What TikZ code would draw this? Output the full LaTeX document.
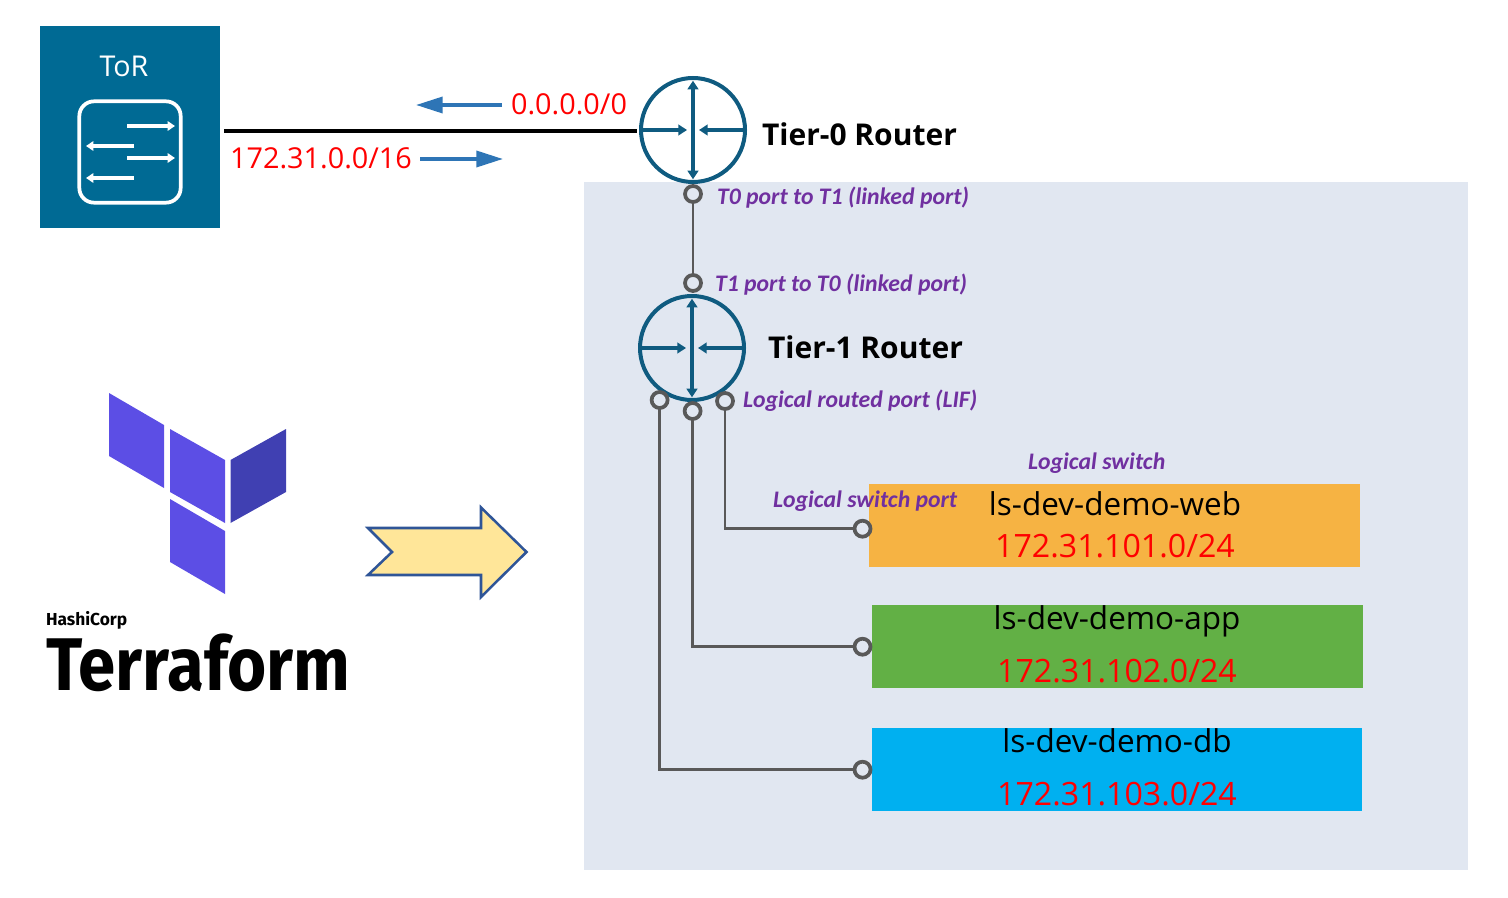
\documentclass[tikz,border=0pt]{standalone}
\usepackage{fontspec}
\setmainfont{Open Sans}
\newfontfamily\calfont{Carlito}
\newfontfamily\tffont{Fira Sans}
\usetikzlibrary{arrows.meta}
\definecolor{panel}{HTML}{E1E7F1}
\definecolor{torblue}{HTML}{006A94}
\definecolor{routerblue}{HTML}{0F5B80}
\definecolor{portgrey}{HTML}{595959}
\definecolor{lblpurple}{HTML}{7030A0}
\definecolor{lsorange}{HTML}{F6B343}
\definecolor{lsgreen}{HTML}{62B045}
\definecolor{lsblue}{HTML}{00B0F0}
\definecolor{tfa}{HTML}{5C4EE5}
\definecolor{tfb}{HTML}{4040B2}
\definecolor{flowblue}{HTML}{2E75B6}
\definecolor{bigfill}{HTML}{FFE699}
\definecolor{bigline}{HTML}{2F5597}
\newcommand{\fsz}[1]{\fontsize{#1}{#1}\selectfont}
\tikzset{
  x=0.75pt,y=-0.75pt,
  every node/.style={inner sep=0pt,outer sep=0pt},
  box/.style={rectangle,anchor=north west},
  router/.style={circle,draw=routerblue,line width=3pt,minimum size=78pt},
  rarrow/.style={routerblue,line width=2.8pt,-{Triangle[length=6.5pt,width=8pt]}},
  rarrowb/.style={routerblue,line width=2.8pt,{Triangle[length=6.5pt,width=8pt]}-{Triangle[length=6.5pt,width=8pt]}},
  port/.style={circle,draw=portgrey,line width=2.8pt,fill=none,minimum size=12pt},
  wire/.style={portgrey,line width=2.2pt},
  toric/.style={white,line width=2.7pt,-{Triangle[length=5.5pt,width=7pt]}},
  flow/.style={flowblue,line width=2.6pt,-{Triangle[length=20pt,width=12pt]}},
  plbl/.style={text=lblpurple,anchor=west,font=\calfont\bfseries\itshape\fsz{17.8}},
  rtitle/.style={text=black,anchor=west,font=\bfseries\fsz{22.5}},
  lsname/.style={text=black,font=\fsz{23.6}},
  lsnet/.style={text=red,font=\fsz{24.1}},
  flbl/.style={text=red,font=\fsz{21.6}},
}
\begin{document}
\begin{tikzpicture}
\useasboundingbox (0,0) rectangle (1508,898);
% panel
\node[box,fill=panel,minimum width=663pt,minimum height=516pt] (panel) at (584,182) {};
% ToR
\node[box,fill=torblue,minimum width=135pt,minimum height=151.5pt] (tor) at (40,26) {};
\node[text=white,font=\fsz{21.5}] (torlbl) at (124,66) {ToR};
\node[draw=white,line width=2.8pt,rounded corners=11pt,minimum size=76pt] (toric) at (130,152) {};
\coordinate (a1s) at (127,126); \coordinate (a1e) at (175,126);
\coordinate (a2s) at (134,146); \coordinate (a2e) at (86,146);
\coordinate (a3s) at (127,158); \coordinate (a3e) at (175,158);
\coordinate (a4s) at (134,178); \coordinate (a4e) at (86,178);
\draw[toric] (a1s) -- (a1e);
\draw[toric] (a2s) -- (a2e);
\draw[toric] (a3s) -- (a3e);
\draw[toric] (a4s) -- (a4e);
% routers
\node[router] (t0) at (693,130) {};
\node[router] (t1) at (692,348) {};
\foreach \r in {t0,t1}{
  \draw[rarrowb] ([yshift=-2pt]\r.north) -- ([yshift=2pt]\r.south);
  \draw[rarrow] (\r.west) -- ([xshift=-4.5pt]\r.center);
  \draw[rarrow] (\r.east) -- ([xshift=4.5pt]\r.center);
}
% uplink
\draw[black,line width=2.8pt,shorten <=3pt,shorten >=3pt,transform canvas={yshift=-0.75pt}] (tor.east |- t0.west) -- (t0.west);
% flow arrows
\coordinate (f1s) at (502,105); \coordinate (f1e) at (416,105);
\coordinate (f2s) at (420,159); \coordinate (f2e) at (503,159);
\draw[flow] (f1s) -- (f1e);
\draw[flow] (f2s) -- (f2e);
\node[flbl] (lbl0) at (569,104) {0.0.0.0/0};
\node[flbl] (lbl16) at (321,158) {172.31.0.0/16};
\node[rtitle] (t0lbl) at (762,134) {Tier-0 Router};
\node[rtitle] (t1lbl) at (768,347) {Tier-1 Router};
% ls boxes
\node[box,fill=lsorange,minimum width=368.25pt,minimum height=62.25pt] (ls1) at (869,484) {};
\node[box,fill=lsgreen,minimum width=368.25pt,minimum height=62.25pt] (ls2) at (872,605) {};
\node[box,fill=lsblue,minimum width=367.5pt,minimum height=62.25pt] (ls3) at (872,728) {};
\node[lsname] (n1) at (1115,504) {ls-dev-demo-web};
\node[lsnet] (m1) at (1115,546) {172.31.101.0/24};
\node[lsname] (n2) at (1117,621) {ls-dev-demo-app};
\node[lsnet] (m2) at (1117,671) {172.31.102.0/24};
\node[lsname] (n3) at (1117,741) {ls-dev-demo-db};
\node[lsnet] (m3) at (1117,794) {172.31.103.0/24};
% ports
\node[port] (p0) at (693,194) {};
\node[port] (p1) at (693,283) {};
\node[port] (l1) at (659.6,400) {};
\node[port] (l2) at (692.6,411) {};
\node[port] (l3) at (725,401) {};
\node[port] (e1) at (862.5,528.7) {};
\node[port] (e2) at (862.5,646.7) {};
\node[port] (e3) at (862.5,769.7) {};
% wires
\draw[wire] (p0) -- (p1);
\draw[wire] (l3) |- (e1);
\draw[wire] (l2) |- (e2);
\draw[wire] (l1) |- (e3);
% purple labels
\node[plbl] (q1) at (717,198) {T0 port to T1 (linked port)};
\node[plbl] (q2) at (715,285) {T1 port to T0 (linked port)};
\node[plbl] (q3) at (743,401) {Logical routed port (LIF)};
\node[plbl] (q4) at (1028,463) {Logical switch};
\node[plbl] (q5) at (773,501) {Logical switch port};
% big arrow
\draw[fill=bigfill,draw=bigline,line width=1.9pt,line join=miter]
  (368,528) -- (481,528) -- (481,507.5) -- (526.5,552) -- (481,597) -- (481,575) -- (368,575) -- (392,552) -- cycle;
% terraform logo
\fill[tfa] (109,393) -- (164,425) -- (164,488) -- (109,456) -- cycle;
\fill[tfa] (170,429) -- (225,460) -- (225,523) -- (170,492) -- cycle;
\fill[tfb] (230.5,460) -- (286,429) -- (286,492) -- (230.5,523) -- cycle;
\fill[tfa] (170,499) -- (225,531) -- (225,594) -- (170,562) -- cycle;
\node[anchor=base west,text=black,font=\tffont\bfseries\fontsize{13}{14}\selectfont] (hc) at (46,625) {HashiCorp};
\node[anchor=base west,text=black,font=\tffont\bfseries\fontsize{56}{58}\selectfont] (tf) at (46,690) {\scalebox{0.9}[1]{Terraform}};
\end{tikzpicture}
\end{document}
